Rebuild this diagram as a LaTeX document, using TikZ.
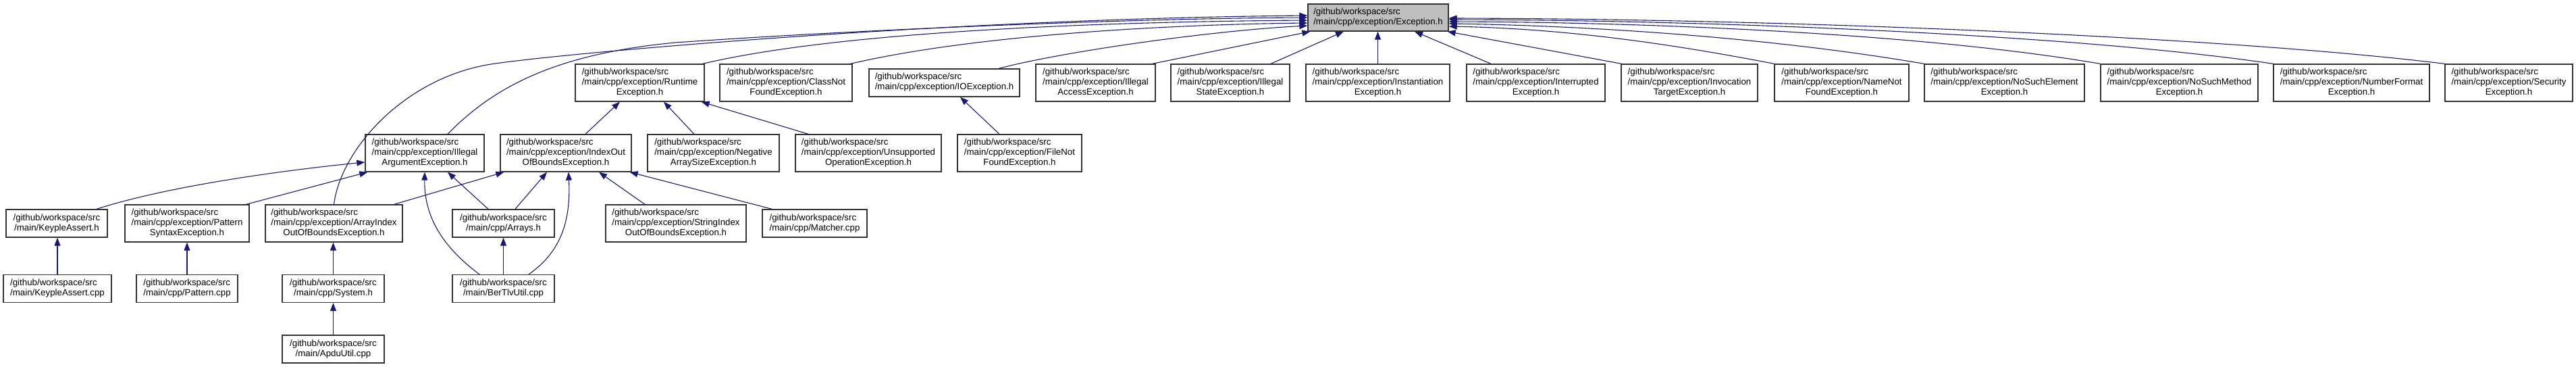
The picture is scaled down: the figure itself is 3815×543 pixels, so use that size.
\documentclass[tikz,border=0pt]{standalone}
\usepackage{fontspec}
\setmainfont{Liberation Sans}
\usetikzlibrary{arrows.meta}
\definecolor{edgeblue}{RGB}{25,25,112}
\definecolor{rootgray}{RGB}{191,191,191}
\newcommand{\lblA}[3]{\begin{tabular}{@{}l@{}}#1\\#2\\\multicolumn{1}{@{}c@{}}{#3}\end{tabular}}
\newcommand{\lblB}[2]{\begin{tabular}{@{}l@{}}#1\\\multicolumn{1}{@{}c@{}}{#2}\end{tabular}}
\newcommand{\gws}{/github/workspace/src}
\begin{document}
\begin{tikzpicture}[x=1pt,y=-1pt,
  box/.style={draw=black!80, line width=1.3pt, fill=white, inner sep=0pt,
    font=\fontsize{13.3}{15}\selectfont, minimum height=55pt},
  boxtwo/.style={box, minimum height=41pt},
  edge/.style={draw=edgeblue, line width=1.1pt, -{Triangle[length=12pt,width=9pt]}},
]
\useasboundingbox (0,0) rectangle (3815,543);
% row 1
\node[boxtwo, fill=rootgray, minimum width=208pt, minimum height=40pt] (exc) at (2041,26) {\lblB{\gws}{/main/cpp/exception/Exception.h}};
% row 2
\node[box, minimum width=191pt] (rte) at (947.5,122.5) {\lblA{\gws}{/main/cpp/exception/Runtime}{Exception.h}};
\node[box, minimum width=196pt] (cnf) at (1164,122.5) {\lblA{\gws}{/main/cpp/exception/ClassNot}{FoundException.h}};
\node[boxtwo, minimum width=223pt] (ioe) at (1398.5,122.5) {\lblB{\gws}{/main/cpp/exception/IOException.h}};
\node[box, minimum width=177pt] (iae) at (1622.5,122.5) {\lblA{\gws}{/main/cpp/exception/Illegal}{AccessException.h}};
\node[box, minimum width=176pt] (ise) at (1822,122.5) {\lblA{\gws}{/main/cpp/exception/Illegal}{StateException.h}};
\node[box, minimum width=213pt] (ine) at (2040.5,122.5) {\lblA{\gws}{/main/cpp/exception/Instantiation}{Exception.h}};
\node[box, minimum width=205pt] (ite) at (2274.5,122.5) {\lblA{\gws}{/main/cpp/exception/Interrupted}{Exception.h}};
\node[box, minimum width=202pt] (inv) at (2502,122.5) {\lblA{\gws}{/main/cpp/exception/Invocation}{TargetException.h}};
\node[box, minimum width=199pt] (nnf) at (2727.5,122.5) {\lblA{\gws}{/main/cpp/exception/NameNot}{FoundException.h}};
\node[box, minimum width=237pt] (nse) at (2968.5,122.5) {\lblA{\gws}{/main/cpp/exception/NoSuchElement}{Exception.h}};
\node[box, minimum width=233pt] (nsm) at (3227.5,122.5) {\lblA{\gws}{/main/cpp/exception/NoSuchMethod}{Exception.h}};
\node[box, minimum width=231pt] (nfe) at (3482.5,122.5) {\lblA{\gws}{/main/cpp/exception/NumberFormat}{Exception.h}};
\node[box, minimum width=189pt] (sec) at (3715.5,122.5) {\lblA{\gws}{/main/cpp/exception/Security}{Exception.h}};
% row 3
\node[box, minimum width=176pt] (iarg) at (629,226.5) {\lblA{\gws}{/main/cpp/exception/Illegal}{ArgumentException.h}};
\node[box, minimum width=194pt] (ioob) at (838,226.5) {\lblA{\gws}{/main/cpp/exception/IndexOut}{OfBoundsException.h}};
\node[box, minimum width=195pt] (nas) at (1056.5,226.5) {\lblA{\gws}{/main/cpp/exception/Negative}{ArraySizeException.h}};
\node[box, minimum width=216pt] (uoe) at (1286,226.5) {\lblA{\gws}{/main/cpp/exception/Unsupported}{OperationException.h}};
\node[box, minimum width=184pt] (fnf) at (1510,226.5) {\lblA{\gws}{/main/cpp/exception/FileNot}{FoundException.h}};
% row 4
\node[boxtwo, minimum width=150pt] (kah) at (84,330.5) {\lblB{\gws}{/main/KeypleAssert.h}};
\node[box, minimum width=184pt] (pse) at (277,330.5) {\lblA{\gws}{/main/cpp/exception/Pattern}{SyntaxException.h}};
\node[box, minimum width=203pt] (aioob) at (494.5,330.5) {\lblA{\gws}{/main/cpp/exception/ArrayIndex}{OutOfBoundsException.h}};
\node[boxtwo, minimum width=151pt] (arr) at (745.5,330.5) {\lblB{\gws}{/main/cpp/Arrays.h}};
\node[box, minimum width=208pt] (sioob) at (1001,330.5) {\lblA{\gws}{/main/cpp/exception/StringIndex}{OutOfBoundsException.h}};
\node[boxtwo, minimum width=155pt] (mat) at (1206.5,330.5) {\lblB{\gws}{/main/cpp/Matcher.cpp}};
% row 5
\node[boxtwo, minimum width=160pt] (kac) at (85,427) {\lblB{\gws}{/main/KeypleAssert.cpp}};
\node[boxtwo, minimum width=150pt] (pat) at (277,427) {\lblB{\gws}{/main/cpp/Pattern.cpp}};
\node[boxtwo, minimum width=151pt] (sys) at (493.5,427) {\lblB{\gws}{/main/cpp/System.h}};
\node[boxtwo, minimum width=151pt] (btu) at (745.5,427) {\lblB{\gws}{/main/BerTlvUtil.cpp}};
% row 6
\node[boxtwo, minimum width=151pt] (apdu) at (493.5,516.5) {\lblB{\gws}{/main/ApduUtil.cpp}};

% edges to Exception.h
\draw[edge] (aioob.north) .. controls (505,220) and (600,115) .. (727,95) .. controls (830,79) and (1400,28) .. ([yshift=3pt]exc.west);
\draw[edge] ([xshift=34pt]iarg.north) .. controls (730,130) and (820,80) .. (1000,63) .. controls (1300,42) and (1700,27) .. (exc.west);
\draw[edge] ([xshift=-3pt]rte.north east) .. controls (1250,45) and (1650,32) .. ([yshift=-4pt]exc.west);
\draw[edge] ([xshift=-3pt]cnf.north east) .. controls (1450,50) and (1750,36) .. ([yshift=-8pt]exc.west);
\draw[edge] ([xshift=80.5pt]ioe.north) .. controls (1580,75) and (1800,45) .. ([yshift=-12pt]exc.west);
\draw[edge] ([xshift=-5pt]iae.north east) -- ([xshift=4pt]exc.south west);
\draw[edge] ([xshift=60pt]ise.north) -- ([xshift=-51pt]exc.south);
\draw[edge] (ine.north) -- (ine.north |- exc.south);
\draw[edge] ([xshift=-66.5pt]ite.north) -- ([xshift=54pt]exc.south);
\draw[edge] ([xshift=1pt]inv.north west) -- ([xshift=-2pt]exc.south east);
\draw[edge] (nnf.north west) .. controls (2450,60) and (2300,42) .. ([yshift=-13pt]exc.east);
\draw[edge] (nse.north west) .. controls (2620,55) and (2350,38) .. ([yshift=-9pt]exc.east);
\draw[edge] (nsm.north west) .. controls (2850,50) and (2450,33) .. ([yshift=-6pt]exc.east);
\draw[edge] (nfe.north west) .. controls (3080,52) and (2550,30) .. ([yshift=-3pt]exc.east);
\draw[edge] (sec.north west) .. controls (3300,55) and (2650,28) .. ([yshift=-1pt]exc.east);
% second level
\draw[edge] ([xshift=29pt]ioob.north) -- ([xshift=-29.5pt]rte.south);
\draw[edge] ([xshift=-28.5pt]nas.north) -- ([xshift=35.5pt]rte.south);
\draw[edge] ([xshift=-89pt]uoe.north) -- ([xshift=-5pt]rte.south east);
\draw[edge] ([xshift=-30pt]fnf.north) -- ([xshift=23.5pt]ioe.south);
% third level
\draw[edge] ([xshift=59pt]kah.north) .. controls (250,275) and (420,252) .. ([yshift=-13.5pt]iarg.west);
\draw[edge] ([xshift=-5pt]pse.north east) -- ([xshift=4pt]iarg.south west);
\draw[edge] ([xshift=-13pt]aioob.north east) -- ([xshift=6pt]ioob.south west);
\draw[edge] ([xshift=-22.5pt]arr.north) -- ([xshift=34pt]iarg.south);
\draw[edge] ([xshift=17.5pt]arr.north) -- ([xshift=-28pt]ioob.south);
\draw[edge] ([xshift=-46pt]sioob.north) -- ([xshift=49pt]ioob.south);
\draw[edge] ([xshift=15pt]mat.north west) -- ([xshift=-3pt]ioob.south east);
\draw[edge] ([xshift=-35.5pt]btu.north) .. controls (655,365) and (628,320) .. (iarg.south);
\draw[edge] ([xshift=37.5pt]btu.north) .. controls (835,370) and (845,320) .. ([xshift=4pt]ioob.south);
\draw[edge] (btu.north) -- (arr.south);
% lower levels
\draw[edge] (kac.north) -- (kac.north |- kah.south);
\draw[edge] (pat.north) -- (pse.south);
\draw[edge] (sys.north) -- (sys.north |- aioob.south);
\draw[edge] (apdu.north) -- (sys.south);
\end{tikzpicture}
\end{document}
